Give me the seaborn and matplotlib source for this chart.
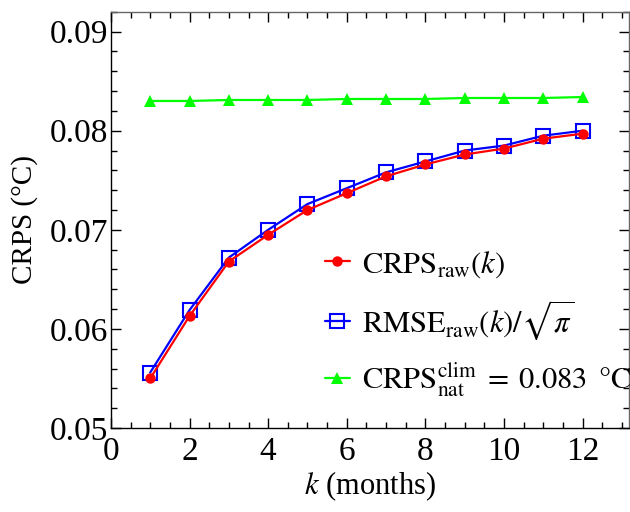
import matplotlib
matplotlib.use("Agg")
import matplotlib.pyplot as plt
import seaborn as sns
import pandas as pd

# Lead time in months
months = [1, 2, 3, 4, 5, 6, 7, 8, 9, 10, 11, 12]
# CRPS of raw forecasts (°C)
crps_raw = [0.0550, 0.0613, 0.0668, 0.0695, 0.0720, 0.0737, 0.0754, 0.0766,
            0.0776, 0.0782, 0.0792, 0.0797]
# RMSE of raw forecasts divided by sqrt(pi) (°C)
rmse_raw = [0.0556, 0.0619, 0.0672, 0.0700, 0.0726, 0.0742, 0.0758, 0.0769,
            0.0780, 0.0785, 0.0795, 0.0800]
# Climatological CRPS (°C)
crps_clim = [0.0830, 0.0830, 0.0831, 0.0831, 0.0831, 0.0832, 0.0832, 0.0832,
             0.0833, 0.0833, 0.0833, 0.0834]

df = pd.DataFrame({"k": months, "crps": crps_raw, "rmse": rmse_raw, "clim": crps_clim})

sns.set_theme(style="ticks")
plt.rcParams["font.family"] = ["Liberation Serif", "DejaVu Serif"]
plt.rcParams["mathtext.fontset"] = "stix"
plt.rcParams["mathtext.rm"] = "Liberation Serif"
for key in ["text.color", "axes.labelcolor", "xtick.color", "ytick.color", "axes.edgecolor"]:
    plt.rcParams[key] = "black"

fig = plt.figure(figsize=(6.3, 5.12), dpi=100)
ax = fig.add_axes([0.176, 0.164, 0.822, 0.813])

sns.lineplot(data=df, x="k", y="clim", ax=ax, color="#00ff00", lw=1.6,
             marker="^", markersize=9, markeredgewidth=0,
             label=r"$\mathrm{CRPS}^{\mathrm{clim}}_{\mathrm{nat}}\;=\;0.083\ \,\mathrm{°C}$")
sns.lineplot(data=df, x="k", y="rmse", ax=ax, color="#0000ff", lw=1.6,
             marker="s", markersize=10, markerfacecolor="none", markeredgecolor="#0000ff",
             markeredgewidth=1.5, label=r"$\mathrm{RMSE}_{\mathrm{raw}}(k)/\sqrt{\pi}$")
sns.lineplot(data=df, x="k", y="crps", ax=ax, color="#ff0000", lw=1.6,
             marker="o", markersize=7.5, markeredgewidth=0,
             label=r"$\mathrm{CRPS}_{\mathrm{raw}}(k)$")

ax.set_xlim(0, 13.17)
ax.set_ylim(0.05, 0.092)
ax.set_xticks([0, 2, 4, 6, 8, 10, 12])
ax.set_xticks([x * 0.5 for x in range(27)], minor=True)
ax.set_yticks([0.05, 0.06, 0.07, 0.08, 0.09])
ax.set_yticklabels(["0.05", "0.06", "0.07", "0.08", "0.09"])
ax.set_yticks([0.05 + i * 0.002 for i in range(22)], minor=True)
ax.tick_params(which="both", direction="in", top=True, right=True, labelsize=24,
               color="black", width=1)
ax.tick_params(axis="x", pad=6)
ax.tick_params(axis="y", pad=2)
ax.tick_params(which="major", length=7)
ax.tick_params(which="minor", length=4)
for s in ax.spines.values():
    s.set_linewidth(1)
    s.set_color("black")
ax.spines["top"].set_color("#666666")
ax.spines["right"].set_color("#666666")

ax.set_xlabel(r"$k$ (months)", fontsize=22, labelpad=2)
ax.set_ylabel("CRPS (°C)", fontsize=21, labelpad=8)

handles, labels = ax.get_legend_handles_labels()
order = [2, 1, 0]
ax.legend([handles[i] for i in order], [labels[i] for i in order],
          loc="upper left", bbox_to_anchor=(0.39, 0.46), frameon=False,
          fontsize=22, handlelength=0.8, handletextpad=0.4, labelspacing=0.6,
          borderaxespad=0)

fig.savefig("out.png", dpi=100)
